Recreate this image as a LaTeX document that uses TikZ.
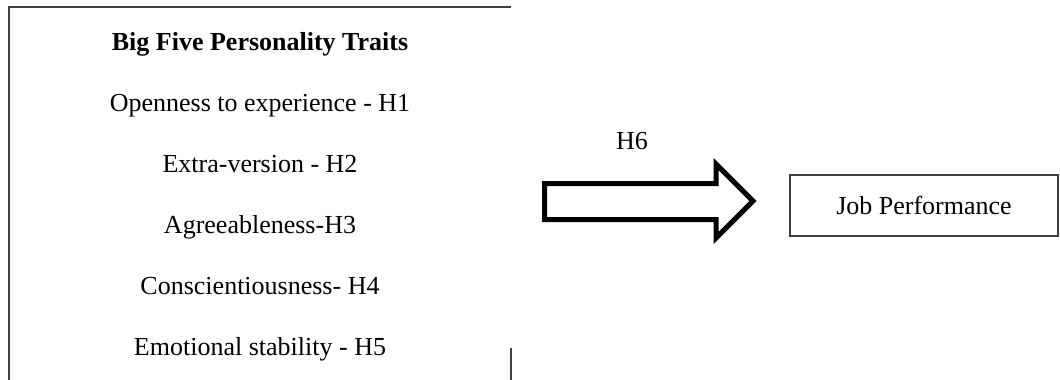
\documentclass[tikz,border=0pt]{standalone}
\usepackage{fontspec}
\setmainfont{Liberation Serif}
\begin{document}
\begin{tikzpicture}[x=1pt,y=-1pt,
  txt/.style={anchor=base,inner sep=0pt,font=\fontsize{26}{30}\selectfont},
  frame/.style={draw=black!75,line width=1.5pt},
  blockarrow/.style={draw=black,line width=5pt,line join=miter}]
\useasboundingbox (0,0) rectangle (1060,380);

% traits box (open at the bottom)
\coordinate (bl) at (9,380);
\coordinate (tl) at (9,7);
\coordinate (tr) at (511,7);
\coordinate (rt) at (511,348);
\coordinate (rb) at (511,380);
\draw[frame] (bl) -- (tl) -- (tr);
\draw[frame] (rt) -- (rb);

\node[txt,font=\fontsize{26}{30}\selectfont\bfseries] (title) at (260,50) {Big Five Personality Traits};
\node[txt] (h1) at (260,111) {Openness to experience - H1};
\node[txt] (h2) at (260,172) {Extra-version - H2};
\node[txt] (h3) at (260,233) {Agreeableness-H3};
\node[txt] (h4) at (260,294) {Conscientiousness- H4};
\node[txt] (h5) at (260,355) {Emotional stability - H5};

% block arrow
\draw[blockarrow] (544.5,183.5) -- (716,183.5) -- (716,164) -- (753,201)
  -- (716,238) -- (716,219.5) -- (544.5,219.5) -- cycle;
\node[txt] (h6) at (632,149) {H6};

% outcome box
\node[frame,inner sep=0pt,minimum width=268pt,minimum height=61pt,
  font=\fontsize{26}{30}\selectfont] (job) at (924,205.5) {Job Performance};
\end{tikzpicture}
\end{document}
